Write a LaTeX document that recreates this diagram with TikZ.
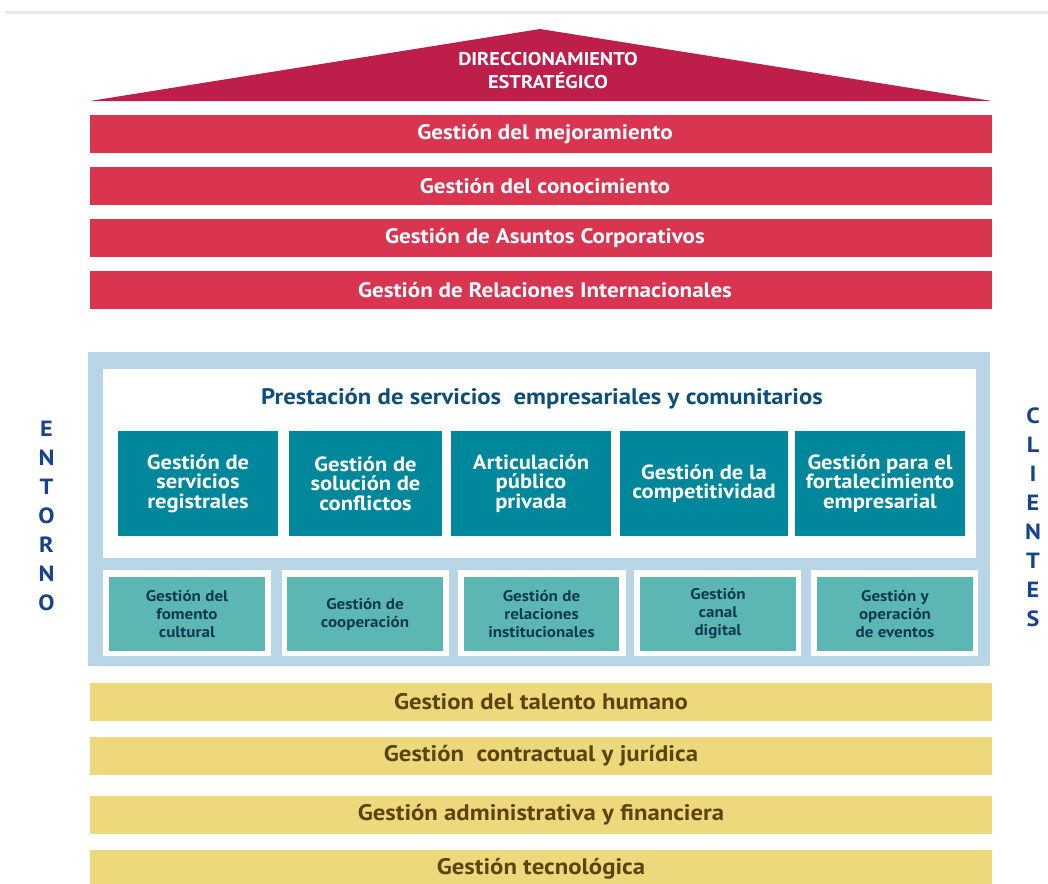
\documentclass[tikz,border=0pt]{standalone}
\usepackage{fontspec}
\setmainfont[FakeStretch=1.1]{PT Sans}
\definecolor{roofred}{HTML}{BE1E4A}
\definecolor{barred}{HTML}{DA3550}
\definecolor{frameblue}{HTML}{B9D6E6}
\definecolor{tealdark}{HTML}{00879C}
\definecolor{teallight}{HTML}{5CB7B3}
\definecolor{navy}{HTML}{0B4F7A}
\definecolor{inknavy}{HTML}{0D3A4E}
\definecolor{sideblue}{HTML}{17428C}
\definecolor{sand}{HTML}{EDD97B}
\definecolor{olive}{HTML}{5A4510}
\definecolor{hairline}{HTML}{E9E9E9}
\begin{document}
\begin{tikzpicture}[x=1pt,y=-1pt,
  band/.style={minimum width=902pt,minimum height=38pt,inner sep=0pt,outer sep=0pt},
  redbar/.style={band,fill=barred,text=white,font=\bfseries\fontsize{21}{21}\selectfont},
  sandbar/.style={band,fill=sand,text=olive,font=\bfseries\fontsize{22.5}{22.5}\selectfont},
  mainbox/.style={fill=tealdark,text=white,minimum height=105pt,inner sep=0pt,align=center,
    font=\bfseries\fontsize{20.5}{19.5}\selectfont},
  subframe/.style={fill=white,minimum height=86pt,inner sep=0pt},
  subbox/.style={fill=teallight,text=inknavy,minimum height=74pt,inner sep=0pt,align=center,
    font=\bfseries\fontsize{15.5}{18}\selectfont},
  sideword/.style={text=sideblue,align=center,inner sep=0pt,font=\bfseries\fontsize{22}{29}\selectfont}]
\useasboundingbox (0,0) rectangle (1048,883);
\clip (0,0) rectangle (1048,883);

% faint rule along the top edge
\draw[hairline,line width=3pt] (5,12.5) -- (1048,12.5);

% roof
\fill[roofred] (90,101) -- (540,29) -- (992,101) -- cycle;
\node[text=white,align=center,inner sep=0pt,font=\bfseries\fontsize{18.5}{23}\selectfont]
  (roof) at (548,71) {DIRECCIONAMIENTO\\ESTRATÉGICO};

% strategic bands
\node[redbar] (r1) at (541,134) {\hspace{8pt}Gestión del mejoramiento};
\node[redbar] (r2) at (541,186) {\hspace{8pt}Gestión del conocimiento};
\node[redbar] (r3) at (541,238) {\hspace{8pt}Gestión de Asuntos Corporativos};
\node[redbar] (r4) at (541,290) {\hspace{8pt}Gestión de Relaciones Internacionales};

% mission frame
\fill[frameblue] (88,352) rectangle (990,666);
\fill[white] (103,369) rectangle (976,558);
\node[text=navy,inner sep=0pt,font=\bfseries\fontsize{22.5}{22.5}\selectfont]
  (title) at (542,399) {Prestación de servicios\ \ empresariales y comunitarios};

\node[mainbox,minimum width=160pt] (m1) at (198,483.5) {Gestión de\\servicios\\registrales};
\node[mainbox,minimum width=153pt] (m2) at (365.5,483.5) {Gestión de\\solución de\\conflictos};
\node[mainbox,minimum width=160pt] (m3) at (531,483.5) {Articulación\\público\\privada};
\node[mainbox,minimum width=168pt] (m4) at (704,483.5) {Gestión de la\\competitividad};
\node[mainbox,minimum width=170pt] (m5) at (880,483.5) {Gestión para el\\fortalecimiento\\empresarial};

\node[subframe,minimum width=168pt] (f1) at (187,613) {};
\node[subframe,minimum width=167pt] (f2) at (365.5,613) {};
\node[subframe,minimum width=168pt] (f3) at (542,613) {};
\node[subframe,minimum width=167pt] (f4) at (717.5,613) {};
\node[subframe,minimum width=167pt] (f5) at (894.5,613) {};

\node[subbox,minimum width=156pt] (s1) at (187,614) {Gestión del\\fomento\\cultural};
\node[subbox,minimum width=156pt] (s2) at (365,614) {Gestión de\\cooperación};
\node[subbox,minimum width=155pt] (s3) at (541.5,614) {Gestión de\\relaciones\\institucionales};
\node[subbox,minimum width=156pt] (s4) at (718,614) {Gestión\\canal\\digital};
\node[subbox,minimum width=156pt] (s5) at (895,614) {Gestión y\\operación\\de eventos};

% side labels
\node[sideword] (entorno) at (46.5,516) {E\\N\\T\\O\\R\\N\\O};
\node[sideword] (clientes) at (1033,517.5) {C\\L\\I\\E\\N\\T\\E\\S};

% support bands
\node[sandbar] (y1) at (541,702) {Gestion del talento humano};
\node[sandbar] (y2) at (541,756) {Gestión\ \ contractual y jurídica};
\node[sandbar] (y3) at (541,815) {Gestión administrativa y financiera};
\node[sandbar] (y4) at (541,869) {Gestión tecnológica};
\end{tikzpicture}
\end{document}
